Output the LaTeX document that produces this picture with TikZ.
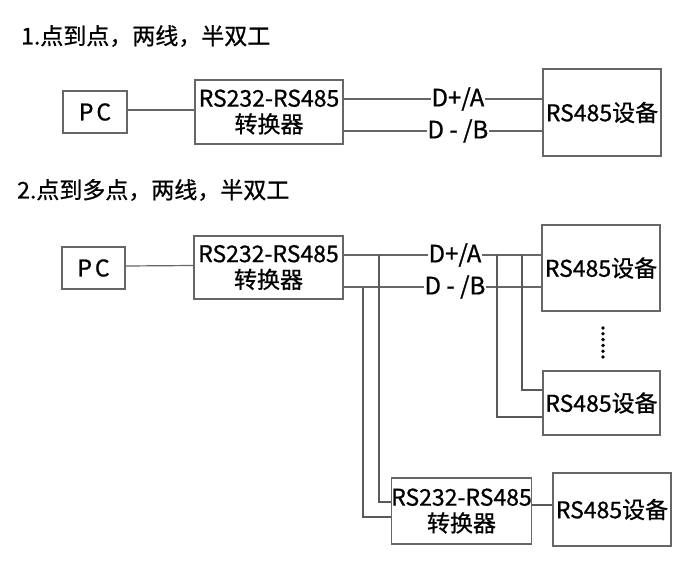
\documentclass[tikz,border=0pt]{standalone}
\usepackage{fontspec}
\setmainfont{Noto Sans CJK SC}[FakeBold=0.8]
\usetikzlibrary{calc}

\begin{document}
\begin{tikzpicture}[x=1pt,y=-1pt,
    box/.style={draw=black!60,line width=1.3pt,inner sep=0pt,align=center,
        font=\fontsize{23}{26}\selectfont},
    wire/.style={draw=black!60,line width=1.2pt},
    tap/.style={draw=black!65,line width=1.6pt},
    lbl/.style={fill=white,inner sep=0.5pt,font=\fontsize{24}{26}\selectfont},
    title/.style={anchor=west,inner sep=0pt,font=\fontsize{23}{26}\selectfont}]
\useasboundingbox (0,0) rectangle (696,568);

% 1. point to point
\node[title] (t1) at (21,36) {1.点到点，两线，半双工};
\node[box,minimum width=64,minimum height=42] (pc1) at (95,112) {P\kern3pt C};
\node[box,minimum width=148,minimum height=64] (conv1) at (269,112) {RS232-RS485\\转换器};
\node[box,minimum width=118,minimum height=87] (dev1) at (602,112.5) {RS485设备};

\draw[wire] ([yshift=2pt]pc1.east) -- ([yshift=2pt]conv1.west);
\draw[wire] ([yshift=13pt]conv1.east) -- node[lbl,pos=0.575] {D+/A} ([yshift=13.5pt]dev1.west);
\draw[wire] ([yshift=-19pt]conv1.east) -- node[lbl,pos=0.575] {D - /B} ([yshift=-18.5pt]dev1.west);

% 2. point to multipoint
\node[title] (t2) at (17,190) {2.点到多点，两线，半双工};
\node[box,minimum width=63,minimum height=42] (pc2) at (93.5,268) {P\kern3pt C};
\node[box,minimum width=149,minimum height=63] (conv2) at (268.5,267.5) {RS232-RS485\\转换器};
\node[box,minimum width=118,minimum height=86] (dev2) at (601,268) {RS485设备};
\node[box,minimum width=117,minimum height=64] (dev3) at (601.5,403) {RS485设备};
\node[box,minimum width=139,minimum height=66] (conv3) at (461.5,511) {RS232-RS485\\转换器};
\node[box,minimum width=118,minimum height=73] (dev4) at (612,509.5) {RS485设备};

\draw[wire] ([yshift=2pt]pc2.east) -- ([yshift=2pt]conv2.west);
\draw[wire] ([yshift=12.5pt]conv2.east) -- node[lbl,pos=0.563] {D+/A} ([yshift=13pt]dev2.west);
\draw[wire] ([yshift=-19.5pt]conv2.east) -- node[lbl,pos=0.563] {D - /B} ([yshift=-19pt]dev2.west);

% taps on the bus
\coordinate (ta) at (379,255);
\coordinate (tb) at (363,288);
\coordinate (tc) at (497,255);
\coordinate (td) at (522,255);
\draw[tap] (ta) |- ([yshift=9pt]conv3.west);
\draw[tap] (tb) |- ([yshift=-6pt]conv3.west);
\draw[tap] (tc) |- ([yshift=-14pt]dev3.west);
\draw[tap] (td) |- ([yshift=13pt]dev3.west);
\draw[tap] ([yshift=6pt]conv3.east) -- ([yshift=4.5pt]dev4.west);

% more devices
\foreach \i in {0,...,5}
    \fill (603,328+5.8*\i) circle (1.9);

\end{tikzpicture}
\end{document}
